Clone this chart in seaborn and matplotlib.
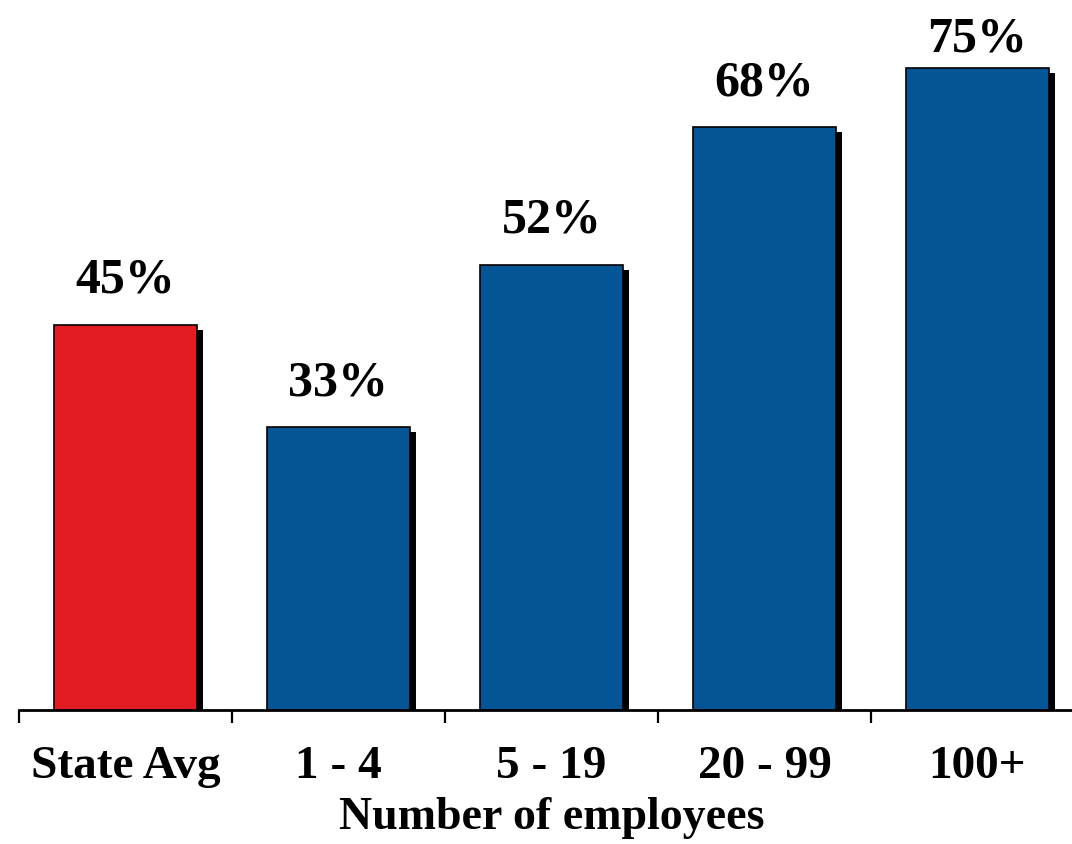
import numpy as np
import pandas as pd
import seaborn as sns
import matplotlib.pyplot as plt
import matplotlib.patheffects as pe

# data
categories = ['State Avg', '1 - 4', '5 - 19', '20 - 99', '100+']
values = [45, 33, 52, 68, 75]
bar_colors = ['#E31B23', '#045596', '#045596', '#045596', '#045596']

df = pd.DataFrame({'group': categories, 'pct': values})

sns.set_style('white')
plt.rcParams['font.family'] = ['Liberation Serif', 'DejaVu Serif']
plt.rcParams['font.weight'] = 'bold'
plt.rcParams['text.color'] = 'black'
plt.rcParams['xtick.color'] = 'black'
plt.rcParams['axes.labelcolor'] = 'black'

fig = plt.figure(figsize=(10.72, 8.45), dpi=100)
ax = fig.add_axes([19 / 1072, 134 / 845, 1065 / 1072, 711 / 845])

sns.barplot(data=df, x='group', y='pct', hue='group', palette=bar_colors,
            legend=False, width=0.667, edgecolor='black', linewidth=1.2,
            saturation=1, ax=ax)

# black drop shadow to the right / below of every bar
for patch in ax.patches:
    patch.set_path_effects([pe.SimplePatchShadow(offset=(4.5, -3.6), shadow_rgbFace='black', alpha=1.0),
                            pe.Normal()])

# value labels above the bars
for i, v in enumerate(values):
    pad = 16 if v < 70 else 4
    ax.annotate(f'{v}%', xy=(i, v), xytext=(0, pad), textcoords='offset points',
                ha='center', va='bottom', fontsize=36, fontweight='bold', color='black')

ax.set_xlim(-0.5, len(categories) - 0.5)
ax.set_ylim(0, 83)

sns.despine(ax=ax, left=True, top=True, right=True)
ax.spines['bottom'].set_linewidth(2)
ax.spines['bottom'].set_color('black')
ax.set_yticks([])

# ticks sit between the categories
ax.set_xticks(np.arange(len(categories)))
ax.set_xticklabels(categories, fontsize=34, fontweight='bold', color='black')
ax.tick_params(axis='x', which='major', bottom=True, length=0, pad=25)
ax.set_xticks(np.arange(len(categories) + 1) - 0.5, minor=True)
ax.tick_params(axis='x', which='minor', bottom=True, length=9, width=1.6, direction='out', color='black')

ax.set_xlabel('Number of employees', fontsize=33, fontweight='bold', color='black', va='top')
ax.xaxis.set_label_coords(0.5, -0.121)
ax.set_ylabel('')

fig.savefig('out.png', dpi=100)
